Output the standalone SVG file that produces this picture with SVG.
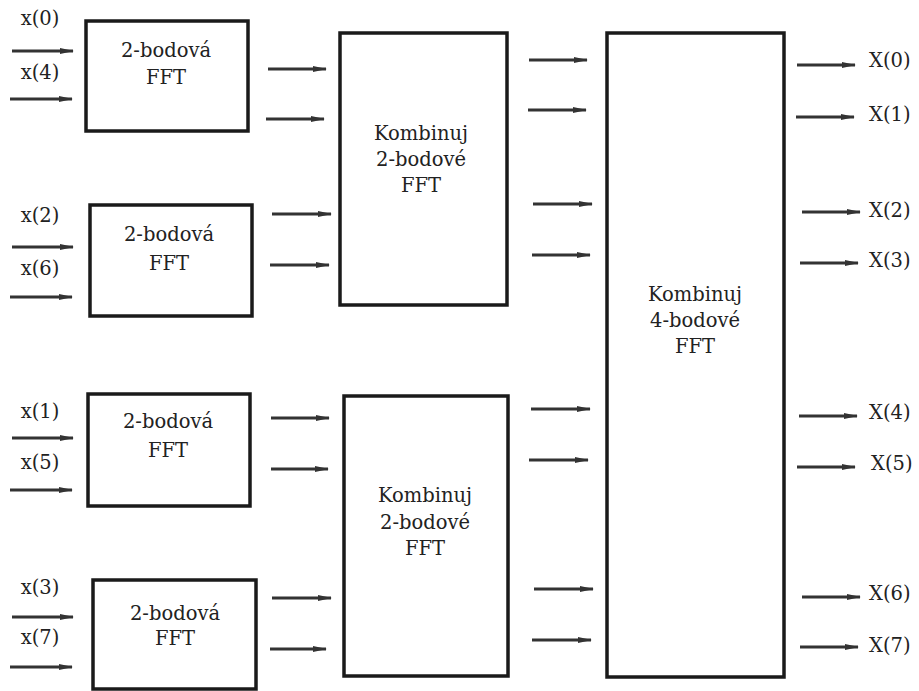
<svg xmlns="http://www.w3.org/2000/svg" width="919" height="691" viewBox="0 0 919 691">
<style>
.box{fill:#fff;stroke:#1a1a1a;stroke-width:3.5}
.t{font-family:'DejaVu Serif','Liberation Serif',serif;font-size:19.5px;fill:#222}
.c{text-anchor:middle}
.a{stroke:#333;stroke-width:3;fill:none;marker-end:url(#ah)}
</style>
<defs>
<marker id="ah" markerUnits="userSpaceOnUse" markerWidth="14" markerHeight="8" refX="13" refY="4" orient="auto">
<polygon points="0,1 14,4 0,7" fill="#333"/>
</marker>
</defs>
<rect width="919" height="691" fill="#fff"/>
<g id="fft2a"><rect class="box" x="86" y="21" width="162" height="110"/>
<text class="t c" x="166" y="57">2-bodová</text><text class="t c" x="166" y="84">FFT</text></g>
<g id="fft2b"><rect class="box" x="90" y="205" width="162" height="111"/>
<text class="t c" x="169" y="241">2-bodová</text><text class="t c" x="169" y="270">FFT</text></g>
<g id="fft2c"><rect class="box" x="88" y="394" width="162" height="112"/>
<text class="t c" x="168" y="428">2-bodová</text><text class="t c" x="168" y="457">FFT</text></g>
<g id="fft2d"><rect class="box" x="93" y="580" width="163" height="109"/>
<text class="t c" x="175" y="620">2-bodová</text><text class="t c" x="175" y="645">FFT</text></g>
<g id="comb2a"><rect class="box" x="340" y="33" width="167" height="272"/>
<text class="t c" x="421" y="140">Kombinuj</text><text class="t c" x="421" y="166">2-bodové</text><text class="t c" x="421" y="192">FFT</text></g>
<g id="comb2b"><rect class="box" x="344" y="396" width="164" height="280"/>
<text class="t c" x="425" y="502">Kombinuj</text><text class="t c" x="425" y="529">2-bodové</text><text class="t c" x="425" y="555">FFT</text></g>
<g id="comb4"><rect class="box" x="607" y="33" width="177" height="644"/>
<text class="t c" x="695" y="301">Kombinuj</text><text class="t c" x="695" y="327">4-bodové</text><text class="t c" x="695" y="353">FFT</text></g>
<g id="labels">
<text class="t c" x="40" y="25">x(0)</text><text class="t c" x="40" y="79">x(4)</text>
<text class="t c" x="40" y="222">x(2)</text><text class="t c" x="40" y="275">x(6)</text>
<text class="t c" x="40" y="418">x(1)</text><text class="t c" x="40" y="469">x(5)</text>
<text class="t c" x="40" y="594">x(3)</text><text class="t c" x="40" y="644">x(7)</text>
<text class="t" x="869" y="67">X(0)</text><text class="t" x="869" y="121">X(1)</text>
<text class="t" x="869" y="217">X(2)</text><text class="t" x="869" y="267">X(3)</text>
<text class="t" x="869" y="419">X(4)</text><text class="t" x="871" y="470">X(5)</text>
<text class="t" x="869" y="600">X(6)</text><text class="t" x="869" y="652">X(7)</text>
</g>
<g id="connectors">
<line class="a" x1="12" y1="51" x2="73" y2="51"/><line class="a" x1="10" y1="99" x2="72" y2="99"/>
<line class="a" x1="12" y1="247" x2="73" y2="247"/><line class="a" x1="10" y1="297" x2="72" y2="297"/>
<line class="a" x1="12" y1="438" x2="73" y2="438"/><line class="a" x1="10" y1="490" x2="72" y2="490"/>
<line class="a" x1="12" y1="617" x2="73" y2="617"/><line class="a" x1="10" y1="667" x2="72" y2="667"/>
<line class="a" x1="268" y1="69" x2="326" y2="69"/><line class="a" x1="266" y1="119" x2="324" y2="119"/>
<line class="a" x1="272" y1="214" x2="331" y2="214"/><line class="a" x1="270" y1="265" x2="329" y2="265"/>
<line class="a" x1="271" y1="418" x2="329" y2="418"/><line class="a" x1="271" y1="469" x2="328" y2="469"/>
<line class="a" x1="272" y1="598" x2="331" y2="598"/><line class="a" x1="270" y1="649" x2="326" y2="649"/>
<line class="a" x1="529" y1="60" x2="587" y2="60"/><line class="a" x1="528" y1="110" x2="586" y2="110"/>
<line class="a" x1="533" y1="204" x2="592" y2="204"/><line class="a" x1="532" y1="255" x2="590" y2="255"/>
<line class="a" x1="531" y1="409" x2="590" y2="409"/><line class="a" x1="529" y1="460" x2="588" y2="460"/>
<line class="a" x1="534" y1="589" x2="593" y2="589"/><line class="a" x1="532" y1="640" x2="591" y2="640"/>
<line class="a" x1="797" y1="65" x2="855" y2="65"/><line class="a" x1="796" y1="117" x2="854" y2="117"/>
<line class="a" x1="802" y1="212" x2="860" y2="212"/><line class="a" x1="800" y1="263" x2="858" y2="263"/>
<line class="a" x1="799" y1="416" x2="857" y2="416"/><line class="a" x1="797" y1="467" x2="855" y2="467"/>
<line class="a" x1="802" y1="597" x2="860" y2="597"/><line class="a" x1="800" y1="647" x2="858" y2="647"/>
</g>
</svg>
